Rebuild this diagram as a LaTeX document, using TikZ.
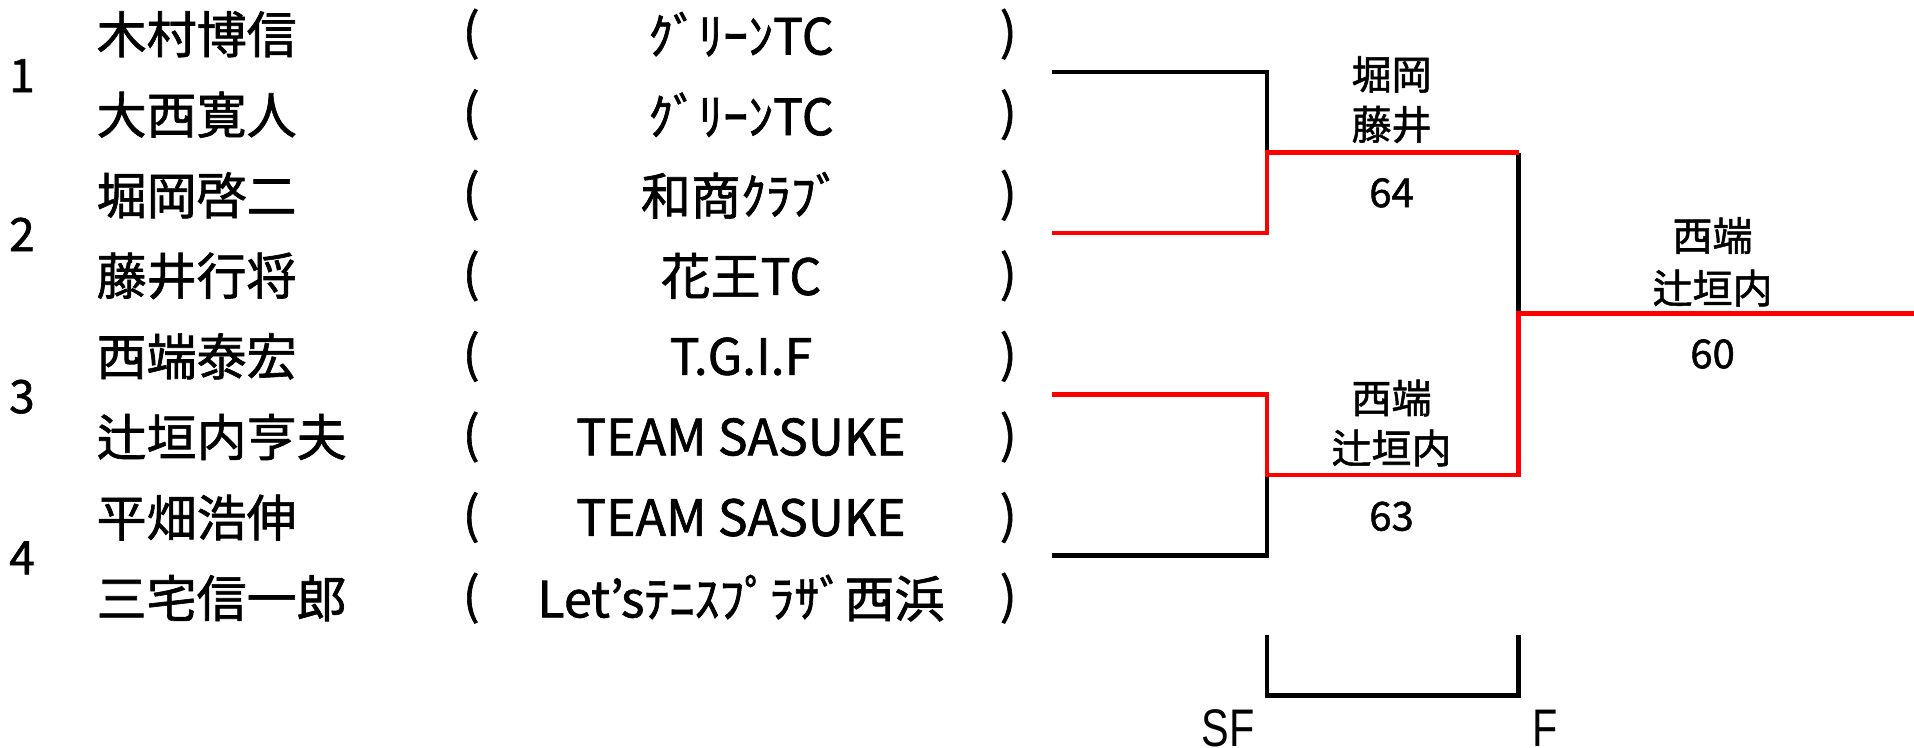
\documentclass[tikz,border=0pt]{standalone}
\usepackage{fontspec}
\setmainfont{Noto Sans CJK JP}[RawFeature={embolden=1.3}]
\newfontfamily\lsans{Liberation Sans}
\begin{document}
\begin{tikzpicture}[x=1.2207pt,y=-1.2207pt,
  nm/.style={anchor=west,inner sep=0pt,font=\fontsize{50}{52}\selectfont},
  tm/.style={inner sep=0pt,font=\fontsize{50}{52}\selectfont},
  num/.style={inner sep=0pt,font=\fontsize{46}{50}\selectfont},
  lbl/.style={inner sep=0pt,font=\fontsize{40}{44}\selectfont},
  rnd/.style={inner sep=0pt,font=\lsans\fontsize{46}{50}\selectfont},
  rd/.style={draw=red,line width=4.6pt,line join=miter},
  bk/.style={draw=black,line width=4.6pt,line join=miter}]
\useasboundingbox (0,0) rectangle (1568,612);
% seed numbers
\node[num] (n1) at (18,62) {1};
\node[num] (n2) at (18,192) {2};
\node[num] (n3) at (18,325) {3};
\node[num] (n4) at (18,457) {4};
% names
\node[nm] (p1) at (79,28) {木村博信};
\node[nm] (p2) at (79,94) {大西寛人};
\node[nm] (p3) at (79,160) {堀岡啓二};
\node[nm] (p4) at (79,226) {藤井行将};
\node[nm] (p5) at (79,292) {西端泰宏};
\node[nm] (p6) at (79,358) {辻垣内亨夫};
\node[nm] (p7) at (79,424) {平畑浩伸};
\node[nm] (p8) at (79,490) {三宅信一郎};
% parentheses and teams
\foreach \i/\y/\t in {1/28/ｸﾞﾘｰﾝTC,2/94/ｸﾞﾘｰﾝTC,3/160/和商ｸﾗﾌﾞ,4/226/花王TC,5/292/T.G.I.F,6/358/TEAM SASUKE,7/424/TEAM SASUKE,8/490/Let’sﾃﾆｽﾌﾟﾗｻﾞ西浜}{
  \node[tm] (l\i) at (386,\y) {(};
  \node[tm] (t\i) at (607,\y) {\t};
  \node[tm] (r\i) at (826,\y) {)};
}
% bracket coordinates
\coordinate (e1) at (862,59);
\coordinate (e2) at (862,191);
\coordinate (e3) at (862,323);
\coordinate (e4) at (862,455);
\coordinate (s1) at (1038,59);
\coordinate (s2) at (1038,191);
\coordinate (s12) at (1038,125);
\coordinate (s3) at (1038,323);
\coordinate (s4) at (1038,455);
\coordinate (s34) at (1038,389);
\coordinate (f1) at (1244,125);
\coordinate (f2) at (1244,389);
\coordinate (f12) at (1244,257);
\coordinate (w) at (1570,257);
% bracket lines
\draw[bk] (e1) -- (s1) -- (s12);
\draw[bk] (e4) -- (s4) -- (s34);
\draw[bk] (f1) -- (f12);
\draw[rd] (e2) -- (s2) -- (s12) -- (f1);
\draw[rd] (e3) -- (s3) -- (s34) -- (f2) -- (f12) -- (w);
% match labels
\node[lbl] (a1) at (1140,61) {堀岡};
\node[lbl] (a2) at (1140,102) {藤井};
\node[lbl] (a3) at (1140,158) {64};
\node[lbl] (b1) at (1140,326) {西端};
\node[lbl] (b2) at (1140,367) {辻垣内};
\node[lbl] (b3) at (1140,423) {63};
\node[lbl] (c1) at (1403,193) {西端};
\node[lbl] (c2) at (1403,236) {辻垣内};
\node[lbl] (c3) at (1403,290) {60};
% round axis
\coordinate (x1) at (1038,520);
\coordinate (x2) at (1038,570);
\coordinate (x3) at (1244,570);
\coordinate (x4) at (1244,520);
\draw[bk] (x1) -- (x2) -- (x3) -- (x4);
\node[rnd] (sf) at (1006,597) {\scalebox{0.9}[1.15]{SF}};
\node[rnd] (fl) at (1266,597) {\scalebox{0.9}[1.15]{F}};
\end{tikzpicture}
\end{document}
